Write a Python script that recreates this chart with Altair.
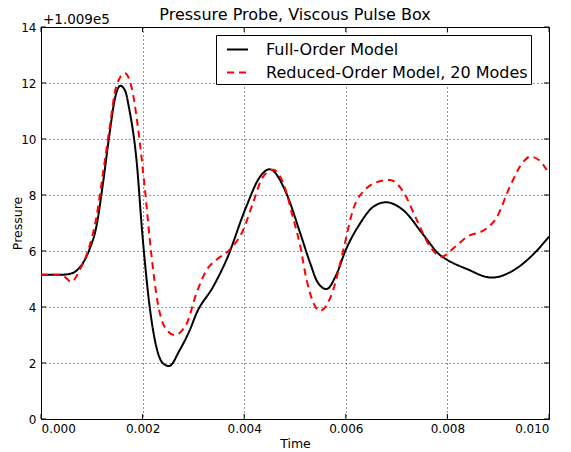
import altair as alt
import pandas as pd

# ---- data (pressure offset from 1.009e5) ----
series_names = ["Full-Order Model", "Reduced-Order Model, 20 Modes"]

t_full = [0.0, 0.0004, 0.0006, 0.0007, 0.0008, 0.00095, 0.00109, 0.00122, 0.00135, 0.00145,
          0.00156, 0.00165, 0.00174, 0.00188, 0.0020, 0.00214, 0.00227, 0.0024, 0.00252,
          0.00273, 0.00293, 0.00306, 0.00339, 0.00365, 0.00404, 0.00431, 0.0045, 0.00483,
          0.0051, 0.0053, 0.00544, 0.00562, 0.0058, 0.0060, 0.00628, 0.00654, 0.00679,
          0.00713, 0.00753, 0.00785, 0.0080, 0.00838, 0.00887, 0.00936, 0.0097, 0.0100]
p_full = [5.15, 5.15, 5.2, 5.3, 5.5, 6.04, 6.87, 8.42, 10.2, 11.4,
          11.9, 11.75, 11.04, 9.25, 6.5, 4.0, 2.58, 1.99, 1.89,
          2.46, 3.18, 3.77, 4.73, 5.68, 7.58, 8.65, 8.92, 8.06,
          6.65, 5.56, 4.9, 4.64, 5.1, 6.04, 6.98, 7.58, 7.74,
          7.46, 6.57, 5.86, 5.68, 5.36, 5.05, 5.38, 5.9, 6.51]

t_rom = [0.0, 0.0004, 0.0006, 0.00076, 0.00095, 0.00109, 0.00122, 0.00135, 0.00148, 0.00165,
         0.00178, 0.00191, 0.00204, 0.00217, 0.0023, 0.00243, 0.00263, 0.00287, 0.00306,
         0.00326, 0.00345, 0.00371, 0.00398, 0.00417, 0.00437, 0.00457, 0.00477, 0.00496,
         0.0051, 0.00523, 0.00549, 0.00575, 0.00595, 0.00614, 0.00641, 0.0066, 0.00687,
         0.00713, 0.0074, 0.00766, 0.00789, 0.00812, 0.00838, 0.00877, 0.00897, 0.00923,
         0.0095, 0.00963, 0.0098, 0.0100]
p_rom = [5.15, 5.15, 4.9, 5.32, 6.15, 7.2, 8.77, 10.4, 11.87, 12.35,
         11.87, 10.4, 8.3, 5.92, 4.13, 3.3, 3.0, 3.42, 4.49,
         5.32, 5.68, 6.04, 6.75, 7.7, 8.65, 8.9, 8.42, 7.2,
         6.2, 4.96, 3.86, 4.6, 6.03, 7.46, 8.24, 8.45, 8.54,
         8.12, 7.1, 6.15, 5.8, 6.1, 6.5, 6.8, 7.2, 8.3,
         9.2, 9.37, 9.25, 8.77]

x_ticks = [0.0, 0.002, 0.004, 0.006, 0.008, 0.010]
y_ticks = [0, 2, 4, 6, 8, 10, 12, 14]
offset_label = "+1.009e5"
title_text = "Pressure Probe, Viscous Pulse Box"

W, H = 508, 392
FONT = "DejaVu Sans"

df = pd.concat([
    pd.DataFrame({"t": t_full, "p": p_full, "series": series_names[0]}),
    pd.DataFrame({"t": t_rom, "p": p_rom, "series": series_names[1]}),
])
xt = pd.DataFrame({"v": x_ticks})
yt = pd.DataFrame({"v": y_ticks})

xscale = alt.Scale(domain=[0, 0.010], nice=False, zero=False)
yscale = alt.Scale(domain=[0, 14], nice=False)

legend = alt.Legend(
    title=None, orient="none", legendX=175, legendY=8,
    fillColor="white", strokeColor="black", padding=3, cornerRadius=0,
    labelFont=FONT, labelFontSize=16, labelColor="black", labelLimit=500,
    symbolType="stroke", symbolSize=441, symbolStrokeWidth=2, symbolOffset=7,
    labelOffset=17, rowPadding=3,
)

lines = alt.Chart(df).mark_line(strokeWidth=2, interpolate="monotone").encode(
    x=alt.X("t:Q", scale=xscale, title="Time",
            axis=alt.Axis(values=x_ticks, format=".3f", tickSize=0, labelPadding=4,
                          titleBaseline="alphabetic", titleY=28, titleX=W / 2,
                          domain=False, grid=True)),
    y=alt.Y("p:Q", scale=yscale, title="Pressure",
            axis=alt.Axis(values=y_ticks, format="d", tickSize=0, labelPadding=5,
                          titleBaseline="alphabetic", titleX=-20, titleY=H / 2,
                          domain=False, grid=True)),
    color=alt.Color("series:N", scale=alt.Scale(domain=series_names, range=["black", "red"]),
                    legend=legend),
    strokeDash=alt.StrokeDash("series:N",
                              scale=alt.Scale(domain=series_names, range=[[1, 0], [7, 5]]),
                              legend=legend),
)

tb = alt.Chart(xt).mark_rule(color="black", strokeWidth=1).encode(
    x=alt.X("v:Q", scale=xscale), y=alt.value(H), y2=alt.value(H - 5))
tt = alt.Chart(xt).mark_rule(color="black", strokeWidth=1).encode(
    x=alt.X("v:Q", scale=xscale), y=alt.value(0), y2=alt.value(5))
tl = alt.Chart(yt).mark_rule(color="black", strokeWidth=1).encode(
    y=alt.Y("v:Q", scale=yscale), x=alt.value(0), x2=alt.value(5))
tr = alt.Chart(yt).mark_rule(color="black", strokeWidth=1).encode(
    y=alt.Y("v:Q", scale=yscale), x=alt.value(W - 5), x2=alt.value(W))

off = alt.Chart(pd.DataFrame({"label": [offset_label]})).mark_text(
    align="left", baseline="alphabetic", font=FONT, fontSize=13.5, color="black"
).encode(text="label:N", x=alt.value(2), y=alt.value(-3))

ttl = alt.Chart(pd.DataFrame({"label": [title_text]})).mark_text(
    align="center", baseline="alphabetic", font=FONT, fontSize=16, color="black"
).encode(text="label:N", x=alt.value(W / 2), y=alt.value(-7.5))

chart = alt.layer(lines, tb, tt, tl, tr, off, ttl).properties(
    width=W, height=H,
    autosize=alt.AutoSizeParams(type="none"),
    padding={"left": 33, "top": 19, "right": 14, "bottom": 33},
).configure_view(stroke="black", strokeWidth=1).configure_axis(
    labelFont=FONT, labelFontSize=12, labelColor="black",
    titleFont=FONT, titleFontSize=12.5, titleFontWeight="normal", titleColor="black",
    gridColor="black", gridDash=[1, 3], gridWidth=1, gridOpacity=0.8,
)

chart.save("out.html", embed_options={"renderer": "svg", "actions": False})
